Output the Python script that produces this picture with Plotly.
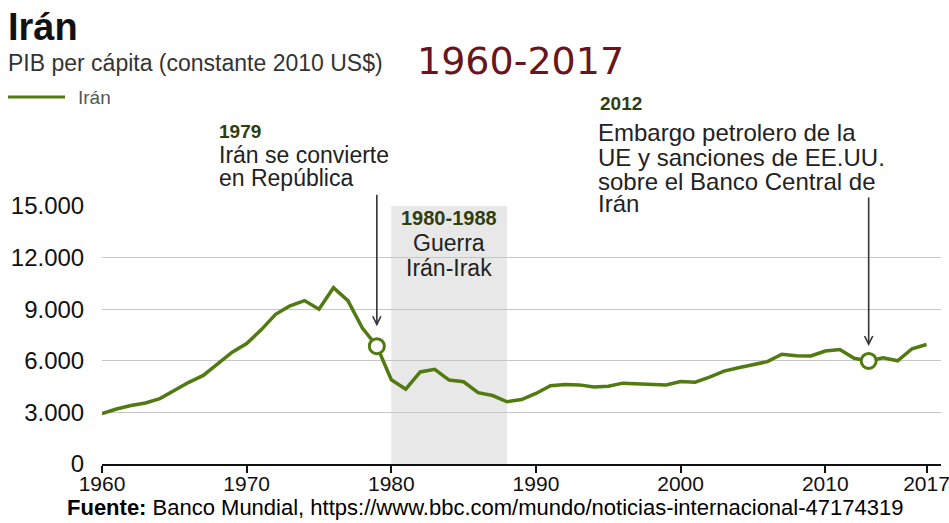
import plotly.graph_objects as go

# GDP per capita of Iran, constant 2010 US$
years = list(range(1960, 2018))
gdp_pc = [2930, 3200, 3400, 3550, 3800, 4300, 4750, 5150, 5800, 6500,
          7000, 7800, 8700, 9200, 9500, 9000, 10250, 9500, 7900, 6850,
          4900, 4350, 5350, 5500, 4880, 4780, 4150, 3980, 3620, 3750,
          4100, 4550, 4620, 4600, 4480, 4520, 4700, 4660, 4650, 4600,
          4800, 4760, 5050, 5400, 5600, 5750, 5950, 6380, 6300, 6280,
          6570, 6650, 6150, 5990, 6180, 6000, 6700, 6950]

marked_years = [1979, 2013]
war_start, war_end = 1980, 1988

y_tick_vals = [0, 3000, 6000, 9000, 12000, 15000]
y_tick_text = ["0", "3.000", "6.000", "9.000", "12.000", "15.000"]
x_tick_vals = [1960, 1970, 1980, 1990, 2000, 2010, 2017]
x_tick_text = ["1960", "1970", "1980", "1990", "2000", "2010", "2017"]

W, H = 949, 523
GREEN = "#517a10"
OLIVE = "#2f3d10"
TEXT = "#222222"
FONT = "Liberation Sans, Arial, sans-serif"


def px(x):
    return x / W


def py(y):
    return 1 - y / H


fig = go.Figure()

fig.add_trace(go.Scatter(
    x=years, y=gdp_pc, mode="lines",
    line=dict(color=GREEN, width=3.5),
    hoverinfo="skip", showlegend=False,
))

marked_vals = [gdp_pc[years.index(yr)] for yr in marked_years]
fig.add_trace(go.Scatter(
    x=marked_years, y=marked_vals, mode="markers",
    marker=dict(symbol="circle", size=15, color="white",
                line=dict(color=GREEN, width=3)),
    cliponaxis=False, hoverinfo="skip", showlegend=False,
))

# war period band
fig.add_shape(type="rect", xref="x", yref="y",
              x0=war_start, x1=war_end, y0=0, y1=15000,
              fillcolor="#e8e8e8", line=dict(width=0), layer="below")

# legend sample
fig.add_shape(type="line", xref="paper", yref="paper",
              x0=px(8), x1=px(65), y0=py(97), y1=py(97),
              line=dict(color=GREEN, width=3))

ann = []


def text(x, y, s, size, color=TEXT, xanchor="left", family=FONT, xref="paper"):
    ann.append(dict(x=x, y=y, xref=xref, yref="paper", text=s,
                    showarrow=False, xanchor=xanchor, yanchor="middle",
                    font=dict(family=family, size=size, color=color)))


text(px(6), py(27), "<b>Irán</b>", 38, "#111111")
text(px(6), py(63), "PIB per cápita (constante 2010 US$)", 23, "#333333")
text(px(415), py(61), "1960-2017", 38, "#66161c", family="DejaVu Sans, sans-serif")
text(px(76), py(97), "Irán", 19, "#555555")

text(px(217), py(131), "<b>1979</b>", 19, OLIVE)
text(px(217), py(155), "Irán se convierte", 23)
text(px(217), py(178), "en República", 23)

war_mid = (war_start + war_end) / 2
text(war_mid, py(218), "<b>1980-1988</b>", 20, OLIVE, xanchor="center", xref="x")
text(war_mid, py(243), "Guerra", 23, xanchor="center", xref="x")
text(war_mid, py(268), "Irán-Irak", 23, xanchor="center", xref="x")

text(px(598), py(103), "<b>2012</b>", 19, OLIVE)
text(px(596), py(132), "Embargo petrolero de la", 24)
text(px(596), py(157), "UE y sanciones de EE.UU.", 24)
text(px(596), py(181), "sobre el Banco Central de", 24)
text(px(596), py(203), "Irán", 24)

ann.append(dict(x=px(485), y=py(507), xref="paper", yref="paper",
                text="<b>Fuente:</b> Banco Mundial, https://www.bbc.com/mundo/noticias-internacional-47174319",
                showarrow=False, xanchor="center", yanchor="middle",
                font=dict(family=FONT, size=22, color="#000000")))

# arrows pointing at the marked years
for yr, val, tail, gap in zip(marked_years, marked_vals, [-153, -165], [20, 15]):
    ann.append(dict(x=yr, y=val, xref="x", yref="y", text="",
                    showarrow=True, ax=0, ay=tail, arrowhead=5,
                    arrowsize=1, arrowwidth=1.6, arrowcolor="#333333",
                    standoff=gap))

fig.update_layout(
    width=W, height=H,
    margin=dict(l=0, r=0, t=0, b=0, pad=0, autoexpand=False),
    paper_bgcolor="white", plot_bgcolor="white",
    annotations=ann,
    showlegend=False,
    xaxis=dict(domain=[px(102), px(941)], range=[1960, 2018],
               automargin=False, ticklabeloverflow="allow",
               ticklabelstandoff=-7,
               tickvals=x_tick_vals, ticktext=x_tick_text,
               ticks="outside", ticklen=7, tickwidth=1.5, tickcolor="#111111",
               showline=True, linecolor="#111111", linewidth=2,
               showgrid=False, zeroline=False,
               tickfont=dict(family=FONT, size=21, color="#111111")),
    yaxis=dict(domain=[py(464), py(206)], range=[0, 15000],
               automargin=False,
               tickvals=y_tick_vals, ticktext=y_tick_text,
               ticks="outside", ticklen=12, tickcolor="rgba(0,0,0,0)",
               showgrid=True, gridcolor="#c6c6c6", gridwidth=1,
               zeroline=False, showline=False,
               tickfont=dict(family=FONT, size=24, color="#111111")),
)

fig.write_html("out.html", config={"displayModeBar": False})
